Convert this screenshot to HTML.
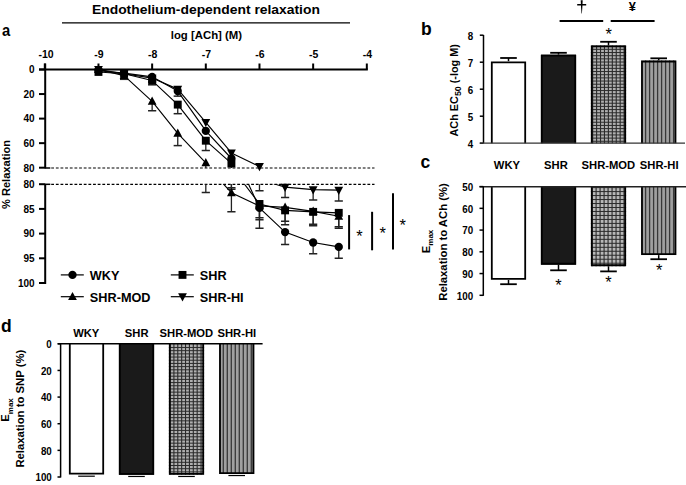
<!DOCTYPE html>
<html><head><meta charset="utf-8"><style>
html,body{margin:0;padding:0;background:#fff;}
svg{display:block;font-family:"Liberation Sans", sans-serif;}
</style></head><body>
<svg width="686" height="485" viewBox="0 0 686 485" font-family='"Liberation Sans", sans-serif'>
<rect width="686" height="485" fill="#fff"/>
<text transform="translate(2.00,35.50) scale(0.88,1)" font-size="16.8" font-weight="bold" text-anchor="start" >a</text>
<text transform="translate(421.00,34.80) scale(1.0,1)" font-size="17.5" font-weight="bold" text-anchor="start" >b</text>
<text transform="translate(420.50,168.00) scale(1.0,1)" font-size="17.5" font-weight="bold" text-anchor="start" >c</text>
<text transform="translate(1.00,332.40) scale(1.0,1)" font-size="17.5" font-weight="bold" text-anchor="start" >d</text>
<text transform="translate(205.90,14.00) scale(1.11,1)" font-size="12.5" font-weight="bold" text-anchor="middle" >Endothelium-dependent relaxation</text>
<line x1="62.00" y1="22.90" x2="350.00" y2="22.90" stroke="#000" stroke-width="1.2" />
<text transform="translate(206.40,38.70) scale(1.138,1)" font-size="10" font-weight="bold" text-anchor="middle" >log [ACh] (M)</text>
<line x1="39.00" y1="69.50" x2="367.82" y2="69.50" stroke="#000" stroke-width="2" />
<line x1="44.80" y1="63.50" x2="44.80" y2="69.50" stroke="#000" stroke-width="2" />
<text transform="translate(46.00,58.10) scale(1.03,1)" font-size="10.2" font-weight="bold" text-anchor="middle" >-10</text>
<line x1="98.47" y1="63.50" x2="98.47" y2="69.50" stroke="#000" stroke-width="2" />
<text transform="translate(98.97,58.10) scale(1.03,1)" font-size="10.2" font-weight="bold" text-anchor="middle" >-9</text>
<line x1="152.14" y1="63.50" x2="152.14" y2="69.50" stroke="#000" stroke-width="2" />
<text transform="translate(152.64,58.10) scale(1.03,1)" font-size="10.2" font-weight="bold" text-anchor="middle" >-8</text>
<line x1="205.81" y1="63.50" x2="205.81" y2="69.50" stroke="#000" stroke-width="2" />
<text transform="translate(206.31,58.10) scale(1.03,1)" font-size="10.2" font-weight="bold" text-anchor="middle" >-7</text>
<line x1="259.48" y1="63.50" x2="259.48" y2="69.50" stroke="#000" stroke-width="2" />
<text transform="translate(259.98,58.10) scale(1.03,1)" font-size="10.2" font-weight="bold" text-anchor="middle" >-6</text>
<line x1="313.15" y1="63.50" x2="313.15" y2="69.50" stroke="#000" stroke-width="2" />
<text transform="translate(313.65,58.10) scale(1.03,1)" font-size="10.2" font-weight="bold" text-anchor="middle" >-5</text>
<line x1="366.82" y1="63.50" x2="366.82" y2="69.50" stroke="#000" stroke-width="2" />
<text transform="translate(367.32,58.10) scale(1.03,1)" font-size="10.2" font-weight="bold" text-anchor="middle" >-4</text>
<line x1="45.20" y1="63.50" x2="45.20" y2="168.30" stroke="#000" stroke-width="2" />
<line x1="39.00" y1="69.50" x2="45.20" y2="69.50" stroke="#000" stroke-width="2" />
<text transform="translate(34.60,73.30) scale(1.0,1)" font-size="10.0" font-weight="bold" text-anchor="end" >0</text>
<line x1="39.00" y1="94.05" x2="45.20" y2="94.05" stroke="#000" stroke-width="2" />
<text transform="translate(34.60,97.85) scale(1.0,1)" font-size="10.0" font-weight="bold" text-anchor="end" >20</text>
<line x1="39.00" y1="118.60" x2="45.20" y2="118.60" stroke="#000" stroke-width="2" />
<text transform="translate(34.60,122.40) scale(1.0,1)" font-size="10.0" font-weight="bold" text-anchor="end" >40</text>
<line x1="39.00" y1="143.15" x2="45.20" y2="143.15" stroke="#000" stroke-width="2" />
<text transform="translate(34.60,146.95) scale(1.0,1)" font-size="10.0" font-weight="bold" text-anchor="end" >60</text>
<line x1="39.00" y1="167.70" x2="45.20" y2="167.70" stroke="#000" stroke-width="2" />
<text transform="translate(34.60,171.50) scale(1.0,1)" font-size="10.0" font-weight="bold" text-anchor="end" >80</text>
<line x1="45.20" y1="184.20" x2="45.20" y2="284.00" stroke="#000" stroke-width="2" />
<line x1="39.00" y1="184.20" x2="45.20" y2="184.20" stroke="#000" stroke-width="2" />
<text transform="translate(34.60,188.00) scale(1.0,1)" font-size="10.0" font-weight="bold" text-anchor="end" >80</text>
<line x1="39.00" y1="208.90" x2="45.20" y2="208.90" stroke="#000" stroke-width="2" />
<text transform="translate(34.60,212.70) scale(1.0,1)" font-size="10.0" font-weight="bold" text-anchor="end" >85</text>
<line x1="39.00" y1="233.60" x2="45.20" y2="233.60" stroke="#000" stroke-width="2" />
<text transform="translate(34.60,237.40) scale(1.0,1)" font-size="10.0" font-weight="bold" text-anchor="end" >90</text>
<line x1="39.00" y1="258.30" x2="45.20" y2="258.30" stroke="#000" stroke-width="2" />
<text transform="translate(34.60,262.10) scale(1.0,1)" font-size="10.0" font-weight="bold" text-anchor="end" >95</text>
<line x1="39.00" y1="283.00" x2="45.20" y2="283.00" stroke="#000" stroke-width="2" />
<text transform="translate(34.60,286.80) scale(1.0,1)" font-size="10.0" font-weight="bold" text-anchor="end" >100</text>
<line x1="45.00" y1="168.00" x2="50.30" y2="168.00" stroke="#000" stroke-width="1.5" />
<line x1="45.00" y1="184.30" x2="50.30" y2="184.30" stroke="#000" stroke-width="1.5" />
<line x1="51.20" y1="168.00" x2="374.50" y2="168.00" stroke="#000" stroke-width="1.2" stroke-dasharray="2.8 1.85"/>
<line x1="51.20" y1="184.30" x2="374.50" y2="184.30" stroke="#000" stroke-width="1.2" stroke-dasharray="2.8 1.85"/>
<text transform="translate(10.3,174.5) rotate(-90)" font-size="11.1" font-weight="bold" text-anchor="middle">% Relaxation</text>
<defs><clipPath id="cu"><rect x="40" y="60" width="340" height="107.9"/></clipPath><clipPath id="cl"><rect x="40" y="184.2" width="340" height="110"/></clipPath></defs>
<g clip-path="url(#cu)">
<line x1="152.14" y1="78.09" x2="152.14" y2="82.39" stroke="#222" stroke-width="1.3" />
<line x1="148.04" y1="82.39" x2="156.24" y2="82.39" stroke="#222" stroke-width="1.5" />
<line x1="259.48" y1="166.47" x2="259.48" y2="169.36" stroke="#222" stroke-width="1.3" />
<line x1="255.38" y1="169.36" x2="263.58" y2="169.36" stroke="#222" stroke-width="1.5" />
<line x1="285.09" y1="168.44" x2="285.09" y2="171.01" stroke="#222" stroke-width="1.3" />
<line x1="280.99" y1="171.01" x2="289.19" y2="171.01" stroke="#222" stroke-width="1.5" />
<line x1="313.15" y1="169.05" x2="313.15" y2="171.63" stroke="#222" stroke-width="1.3" />
<line x1="309.05" y1="171.63" x2="317.25" y2="171.63" stroke="#222" stroke-width="1.5" />
<line x1="338.76" y1="169.17" x2="338.76" y2="171.87" stroke="#222" stroke-width="1.3" />
<line x1="334.66" y1="171.87" x2="342.86" y2="171.87" stroke="#222" stroke-width="1.5" />
<line x1="124.08" y1="75.64" x2="124.08" y2="79.32" stroke="#222" stroke-width="1.3" />
<line x1="119.98" y1="79.32" x2="128.18" y2="79.32" stroke="#222" stroke-width="1.5" />
<line x1="152.14" y1="101.41" x2="152.14" y2="110.74" stroke="#222" stroke-width="1.3" />
<line x1="148.04" y1="110.74" x2="156.24" y2="110.74" stroke="#222" stroke-width="1.5" />
<line x1="177.75" y1="133.33" x2="177.75" y2="145.61" stroke="#222" stroke-width="1.3" />
<line x1="173.65" y1="145.61" x2="181.85" y2="145.61" stroke="#222" stroke-width="1.5" />
<line x1="205.81" y1="162.79" x2="205.81" y2="169.79" stroke="#222" stroke-width="1.3" />
<line x1="201.71" y1="169.79" x2="209.91" y2="169.79" stroke="#222" stroke-width="1.5" />
<line x1="231.42" y1="169.85" x2="231.42" y2="174.57" stroke="#222" stroke-width="1.3" />
<line x1="227.32" y1="174.57" x2="235.52" y2="174.57" stroke="#222" stroke-width="1.5" />
<line x1="259.48" y1="173.10" x2="259.48" y2="176.54" stroke="#222" stroke-width="1.3" />
<line x1="255.38" y1="176.54" x2="263.58" y2="176.54" stroke="#222" stroke-width="1.5" />
<line x1="285.09" y1="173.47" x2="285.09" y2="177.77" stroke="#222" stroke-width="1.3" />
<line x1="280.99" y1="177.77" x2="289.19" y2="177.77" stroke="#222" stroke-width="1.5" />
<line x1="313.15" y1="174.45" x2="313.15" y2="178.01" stroke="#222" stroke-width="1.3" />
<line x1="309.05" y1="178.01" x2="317.25" y2="178.01" stroke="#222" stroke-width="1.5" />
<line x1="338.76" y1="175.68" x2="338.76" y2="178.62" stroke="#222" stroke-width="1.3" />
<line x1="334.66" y1="178.62" x2="342.86" y2="178.62" stroke="#222" stroke-width="1.5" />
<line x1="152.14" y1="80.55" x2="152.14" y2="84.84" stroke="#222" stroke-width="1.3" />
<line x1="148.04" y1="84.84" x2="156.24" y2="84.84" stroke="#222" stroke-width="1.5" />
<line x1="177.75" y1="104.61" x2="177.75" y2="113.69" stroke="#222" stroke-width="1.3" />
<line x1="173.65" y1="113.69" x2="181.85" y2="113.69" stroke="#222" stroke-width="1.5" />
<line x1="205.81" y1="140.69" x2="205.81" y2="150.51" stroke="#222" stroke-width="1.3" />
<line x1="201.71" y1="150.51" x2="209.91" y2="150.51" stroke="#222" stroke-width="1.5" />
<line x1="231.42" y1="163.40" x2="231.42" y2="168.93" stroke="#222" stroke-width="1.3" />
<line x1="227.32" y1="168.93" x2="235.52" y2="168.93" stroke="#222" stroke-width="1.5" />
<line x1="259.48" y1="172.61" x2="259.48" y2="176.05" stroke="#222" stroke-width="1.3" />
<line x1="255.38" y1="176.05" x2="263.58" y2="176.05" stroke="#222" stroke-width="1.5" />
<line x1="285.09" y1="174.21" x2="285.09" y2="176.91" stroke="#222" stroke-width="1.3" />
<line x1="280.99" y1="176.91" x2="289.19" y2="176.91" stroke="#222" stroke-width="1.5" />
<line x1="313.15" y1="174.57" x2="313.15" y2="177.64" stroke="#222" stroke-width="1.3" />
<line x1="309.05" y1="177.64" x2="317.25" y2="177.64" stroke="#222" stroke-width="1.5" />
<line x1="338.76" y1="174.82" x2="338.76" y2="178.26" stroke="#222" stroke-width="1.3" />
<line x1="334.66" y1="178.26" x2="342.86" y2="178.26" stroke="#222" stroke-width="1.5" />
<line x1="152.14" y1="76.86" x2="152.14" y2="81.16" stroke="#222" stroke-width="1.3" />
<line x1="148.04" y1="81.16" x2="156.24" y2="81.16" stroke="#222" stroke-width="1.5" />
<line x1="177.75" y1="91.10" x2="177.75" y2="96.14" stroke="#222" stroke-width="1.3" />
<line x1="173.65" y1="96.14" x2="181.85" y2="96.14" stroke="#222" stroke-width="1.5" />
<line x1="231.42" y1="158.49" x2="231.42" y2="168.56" stroke="#222" stroke-width="1.3" />
<line x1="227.32" y1="168.56" x2="235.52" y2="168.56" stroke="#222" stroke-width="1.5" />
<line x1="259.48" y1="173.59" x2="259.48" y2="178.62" stroke="#222" stroke-width="1.3" />
<line x1="255.38" y1="178.62" x2="263.58" y2="178.62" stroke="#222" stroke-width="1.5" />
<line x1="285.09" y1="179.61" x2="285.09" y2="182.68" stroke="#222" stroke-width="1.3" />
<line x1="280.99" y1="182.68" x2="289.19" y2="182.68" stroke="#222" stroke-width="1.5" />
<line x1="313.15" y1="182.18" x2="313.15" y2="185.01" stroke="#222" stroke-width="1.3" />
<line x1="309.05" y1="185.01" x2="317.25" y2="185.01" stroke="#222" stroke-width="1.5" />
<line x1="338.76" y1="183.29" x2="338.76" y2="186.11" stroke="#222" stroke-width="1.3" />
<line x1="334.66" y1="186.11" x2="342.86" y2="186.11" stroke="#222" stroke-width="1.5" />
<path d="M98.47,69.50 L124.08,73.80 M124.08,73.80 L152.14,78.09 M152.14,78.09 L177.75,89.14 M177.75,89.14 L205.81,122.28 M205.81,122.28 L231.42,152.97 M231.42,152.97 L259.48,166.47 " fill="none" stroke="#000" stroke-width="1.15"/>
<path d="M98.47,69.50 L124.08,75.64 M124.08,75.64 L152.14,101.41 M152.14,101.41 L177.75,133.33 M177.75,133.33 L205.81,162.79 " fill="none" stroke="#000" stroke-width="1.15"/>
<path d="M98.47,71.95 L124.08,73.80 M124.08,73.80 L152.14,80.55 M152.14,80.55 L177.75,104.61 M177.75,104.61 L205.81,140.69 M205.81,140.69 L231.42,163.40 " fill="none" stroke="#000" stroke-width="1.15"/>
<path d="M98.47,70.73 L124.08,73.18 M124.08,73.18 L152.14,76.86 M152.14,76.86 L177.75,91.10 M177.75,91.10 L205.81,130.88 M205.81,130.88 L231.42,158.49 " fill="none" stroke="#000" stroke-width="1.15"/>
</g>
<g clip-path="url(#cl)">
<line x1="152.14" y1="-176.42" x2="152.14" y2="-159.13" stroke="#222" stroke-width="1.3" />
<line x1="148.04" y1="-159.13" x2="156.24" y2="-159.13" stroke="#222" stroke-width="1.5" />
<line x1="259.48" y1="179.26" x2="259.48" y2="190.87" stroke="#222" stroke-width="1.3" />
<line x1="255.38" y1="190.87" x2="263.58" y2="190.87" stroke="#222" stroke-width="1.5" />
<line x1="285.09" y1="187.16" x2="285.09" y2="197.54" stroke="#222" stroke-width="1.3" />
<line x1="280.99" y1="197.54" x2="289.19" y2="197.54" stroke="#222" stroke-width="1.5" />
<line x1="313.15" y1="189.63" x2="313.15" y2="200.01" stroke="#222" stroke-width="1.3" />
<line x1="309.05" y1="200.01" x2="317.25" y2="200.01" stroke="#222" stroke-width="1.5" />
<line x1="338.76" y1="190.13" x2="338.76" y2="201.00" stroke="#222" stroke-width="1.3" />
<line x1="334.66" y1="201.00" x2="342.86" y2="201.00" stroke="#222" stroke-width="1.5" />
<line x1="124.08" y1="-186.30" x2="124.08" y2="-171.48" stroke="#222" stroke-width="1.3" />
<line x1="119.98" y1="-171.48" x2="128.18" y2="-171.48" stroke="#222" stroke-width="1.5" />
<line x1="152.14" y1="-82.56" x2="152.14" y2="-45.02" stroke="#222" stroke-width="1.3" />
<line x1="148.04" y1="-45.02" x2="156.24" y2="-45.02" stroke="#222" stroke-width="1.5" />
<line x1="177.75" y1="45.88" x2="177.75" y2="95.28" stroke="#222" stroke-width="1.3" />
<line x1="173.65" y1="95.28" x2="181.85" y2="95.28" stroke="#222" stroke-width="1.5" />
<line x1="205.81" y1="164.44" x2="205.81" y2="192.60" stroke="#222" stroke-width="1.3" />
<line x1="201.71" y1="192.60" x2="209.91" y2="192.60" stroke="#222" stroke-width="1.5" />
<line x1="231.42" y1="192.84" x2="231.42" y2="211.86" stroke="#222" stroke-width="1.3" />
<line x1="227.32" y1="211.86" x2="235.52" y2="211.86" stroke="#222" stroke-width="1.5" />
<line x1="259.48" y1="205.94" x2="259.48" y2="219.77" stroke="#222" stroke-width="1.3" />
<line x1="255.38" y1="219.77" x2="263.58" y2="219.77" stroke="#222" stroke-width="1.5" />
<line x1="285.09" y1="207.42" x2="285.09" y2="224.71" stroke="#222" stroke-width="1.3" />
<line x1="280.99" y1="224.71" x2="289.19" y2="224.71" stroke="#222" stroke-width="1.5" />
<line x1="313.15" y1="211.37" x2="313.15" y2="225.70" stroke="#222" stroke-width="1.3" />
<line x1="309.05" y1="225.70" x2="317.25" y2="225.70" stroke="#222" stroke-width="1.5" />
<line x1="338.76" y1="216.31" x2="338.76" y2="228.17" stroke="#222" stroke-width="1.3" />
<line x1="334.66" y1="228.17" x2="342.86" y2="228.17" stroke="#222" stroke-width="1.5" />
<line x1="152.14" y1="-166.54" x2="152.14" y2="-149.25" stroke="#222" stroke-width="1.3" />
<line x1="148.04" y1="-149.25" x2="156.24" y2="-149.25" stroke="#222" stroke-width="1.5" />
<line x1="177.75" y1="-69.72" x2="177.75" y2="-33.16" stroke="#222" stroke-width="1.3" />
<line x1="173.65" y1="-33.16" x2="181.85" y2="-33.16" stroke="#222" stroke-width="1.5" />
<line x1="205.81" y1="75.52" x2="205.81" y2="115.04" stroke="#222" stroke-width="1.3" />
<line x1="201.71" y1="115.04" x2="209.91" y2="115.04" stroke="#222" stroke-width="1.5" />
<line x1="231.42" y1="166.91" x2="231.42" y2="189.14" stroke="#222" stroke-width="1.3" />
<line x1="227.32" y1="189.14" x2="235.52" y2="189.14" stroke="#222" stroke-width="1.5" />
<line x1="259.48" y1="203.96" x2="259.48" y2="217.79" stroke="#222" stroke-width="1.3" />
<line x1="255.38" y1="217.79" x2="263.58" y2="217.79" stroke="#222" stroke-width="1.5" />
<line x1="285.09" y1="210.38" x2="285.09" y2="221.25" stroke="#222" stroke-width="1.3" />
<line x1="280.99" y1="221.25" x2="289.19" y2="221.25" stroke="#222" stroke-width="1.5" />
<line x1="313.15" y1="211.86" x2="313.15" y2="224.21" stroke="#222" stroke-width="1.3" />
<line x1="309.05" y1="224.21" x2="317.25" y2="224.21" stroke="#222" stroke-width="1.5" />
<line x1="338.76" y1="212.85" x2="338.76" y2="226.68" stroke="#222" stroke-width="1.3" />
<line x1="334.66" y1="226.68" x2="342.86" y2="226.68" stroke="#222" stroke-width="1.5" />
<line x1="152.14" y1="-181.36" x2="152.14" y2="-164.07" stroke="#222" stroke-width="1.3" />
<line x1="148.04" y1="-164.07" x2="156.24" y2="-164.07" stroke="#222" stroke-width="1.5" />
<line x1="177.75" y1="-124.06" x2="177.75" y2="-103.80" stroke="#222" stroke-width="1.3" />
<line x1="173.65" y1="-103.80" x2="181.85" y2="-103.80" stroke="#222" stroke-width="1.5" />
<line x1="231.42" y1="147.15" x2="231.42" y2="187.66" stroke="#222" stroke-width="1.3" />
<line x1="227.32" y1="187.66" x2="235.52" y2="187.66" stroke="#222" stroke-width="1.5" />
<line x1="259.48" y1="207.91" x2="259.48" y2="228.17" stroke="#222" stroke-width="1.3" />
<line x1="255.38" y1="228.17" x2="263.58" y2="228.17" stroke="#222" stroke-width="1.5" />
<line x1="285.09" y1="232.12" x2="285.09" y2="244.47" stroke="#222" stroke-width="1.3" />
<line x1="280.99" y1="244.47" x2="289.19" y2="244.47" stroke="#222" stroke-width="1.5" />
<line x1="313.15" y1="242.49" x2="313.15" y2="253.85" stroke="#222" stroke-width="1.3" />
<line x1="309.05" y1="253.85" x2="317.25" y2="253.85" stroke="#222" stroke-width="1.5" />
<line x1="338.76" y1="246.94" x2="338.76" y2="258.30" stroke="#222" stroke-width="1.3" />
<line x1="334.66" y1="258.30" x2="342.86" y2="258.30" stroke="#222" stroke-width="1.5" />
<path d="M98.47,-211.00 L124.08,-193.71 L152.14,-176.42 L177.75,-131.96 L205.81,1.42 L231.42,124.92 L259.48,179.26 L285.09,187.16 L313.15,189.63 L338.76,190.13" fill="none" stroke="#000" stroke-width="1.15"/>
<path d="M98.47,-211.00 L124.08,-186.30 L152.14,-82.56 L177.75,45.88 L205.81,164.44 L231.42,192.84 L259.48,205.94 L285.09,207.42 L313.15,211.37 L338.76,216.31" fill="none" stroke="#000" stroke-width="1.15"/>
<path d="M98.47,-201.12 L124.08,-193.71 L152.14,-166.54 L177.75,-69.72 L205.81,75.52 L231.42,166.91 L259.48,203.96 L285.09,210.38 L313.15,211.86 L338.76,212.85" fill="none" stroke="#000" stroke-width="1.15"/>
<path d="M98.47,-206.06 L124.08,-196.18 L152.14,-181.36 L177.75,-124.06 L205.81,36.00 L231.42,147.15 L259.48,207.91 L285.09,232.12 L313.15,242.49 L338.76,246.94" fill="none" stroke="#000" stroke-width="1.15"/>
</g>
<path d="M98.47,74.30 L102.87,66.10 L94.07,66.10 Z" fill="#000"/>
<path d="M124.08,78.60 L128.48,70.40 L119.68,70.40 Z" fill="#000"/>
<path d="M152.14,82.89 L156.54,74.69 L147.74,74.69 Z" fill="#000"/>
<path d="M177.75,93.94 L182.15,85.74 L173.35,85.74 Z" fill="#000"/>
<path d="M205.81,127.08 L210.21,118.88 L201.41,118.88 Z" fill="#000"/>
<path d="M231.42,157.77 L235.82,149.57 L227.02,149.57 Z" fill="#000"/>
<path d="M259.48,171.27 L263.88,163.07 L255.08,163.07 Z" fill="#000"/>
<path d="M285.09,191.96 L289.49,183.76 L280.69,183.76 Z" fill="#000"/>
<path d="M313.15,194.43 L317.55,186.23 L308.75,186.23 Z" fill="#000"/>
<path d="M338.76,194.93 L343.16,186.73 L334.36,186.73 Z" fill="#000"/>
<path d="M98.47,64.70 L102.87,72.90 L94.07,72.90 Z" fill="#000"/>
<path d="M124.08,70.84 L128.48,79.04 L119.68,79.04 Z" fill="#000"/>
<path d="M152.14,96.61 L156.54,104.81 L147.74,104.81 Z" fill="#000"/>
<path d="M177.75,128.53 L182.15,136.73 L173.35,136.73 Z" fill="#000"/>
<path d="M205.81,157.99 L210.21,166.19 L201.41,166.19 Z" fill="#000"/>
<path d="M231.42,188.04 L235.82,196.25 L227.02,196.25 Z" fill="#000"/>
<path d="M259.48,201.14 L263.88,209.34 L255.08,209.34 Z" fill="#000"/>
<path d="M285.09,202.62 L289.49,210.82 L280.69,210.82 Z" fill="#000"/>
<path d="M313.15,206.57 L317.55,214.77 L308.75,214.77 Z" fill="#000"/>
<path d="M338.76,211.51 L343.16,219.71 L334.36,219.71 Z" fill="#000"/>
<rect x="94.52" y="68.00" width="7.9" height="7.9" fill="#000"/>
<rect x="120.13" y="69.85" width="7.9" height="7.9" fill="#000"/>
<rect x="148.19" y="76.60" width="7.9" height="7.9" fill="#000"/>
<rect x="173.80" y="100.66" width="7.9" height="7.9" fill="#000"/>
<rect x="201.86" y="136.75" width="7.9" height="7.9" fill="#000"/>
<rect x="227.47" y="159.45" width="7.9" height="7.9" fill="#000"/>
<rect x="255.53" y="200.01" width="7.9" height="7.9" fill="#000"/>
<rect x="281.14" y="206.43" width="7.9" height="7.9" fill="#000"/>
<rect x="309.20" y="207.91" width="7.9" height="7.9" fill="#000"/>
<rect x="334.81" y="208.90" width="7.9" height="7.9" fill="#000"/>
<circle cx="98.47" cy="70.73" r="4.15" fill="#000"/>
<circle cx="124.08" cy="73.18" r="4.15" fill="#000"/>
<circle cx="152.14" cy="76.86" r="4.15" fill="#000"/>
<circle cx="177.75" cy="91.10" r="4.15" fill="#000"/>
<circle cx="205.81" cy="130.88" r="4.15" fill="#000"/>
<circle cx="231.42" cy="158.49" r="4.15" fill="#000"/>
<circle cx="259.48" cy="207.91" r="4.15" fill="#000"/>
<circle cx="285.09" cy="232.12" r="4.15" fill="#000"/>
<circle cx="313.15" cy="242.49" r="4.15" fill="#000"/>
<circle cx="338.76" cy="246.94" r="4.15" fill="#000"/>
<line x1="349.10" y1="215.10" x2="349.10" y2="249.40" stroke="#000" stroke-width="2" />
<text transform="translate(359.40,241.60) scale(1.0,1)" font-size="16.5" font-weight="normal" text-anchor="middle" >*</text>
<line x1="372.10" y1="211.80" x2="372.10" y2="250.30" stroke="#000" stroke-width="2" />
<text transform="translate(382.80,238.50) scale(1.0,1)" font-size="16.5" font-weight="normal" text-anchor="middle" >*</text>
<line x1="393.00" y1="193.20" x2="393.00" y2="249.40" stroke="#000" stroke-width="2" />
<text transform="translate(402.80,230.60) scale(1.0,1)" font-size="16.5" font-weight="normal" text-anchor="middle" >*</text>
<line x1="60.80" y1="274.90" x2="83.80" y2="274.90" stroke="#000" stroke-width="1.2" />
<circle cx="72.50" cy="274.90" r="4.15" fill="#000"/>
<text transform="translate(89.80,279.80) scale(1.06,1)" font-size="12" font-weight="bold" text-anchor="start" >WKY</text>
<line x1="170.80" y1="274.90" x2="193.80" y2="274.90" stroke="#000" stroke-width="1.2" />
<rect x="178.55" y="270.95" width="7.9" height="7.9" fill="#000"/>
<text transform="translate(199.80,279.80) scale(1.06,1)" font-size="12" font-weight="bold" text-anchor="start" >SHR</text>
<line x1="60.80" y1="296.70" x2="83.80" y2="296.70" stroke="#000" stroke-width="1.2" />
<path d="M72.50,291.90 L76.90,300.10 L68.10,300.10 Z" fill="#000"/>
<text transform="translate(89.80,301.60) scale(1.06,1)" font-size="12" font-weight="bold" text-anchor="start" >SHR-MOD</text>
<line x1="170.80" y1="296.70" x2="193.80" y2="296.70" stroke="#000" stroke-width="1.2" />
<path d="M182.50,301.50 L186.90,293.30 L178.10,293.30 Z" fill="#000"/>
<text transform="translate(199.80,301.60) scale(1.06,1)" font-size="12" font-weight="bold" text-anchor="start" >SHR-HI</text>
<line x1="483.50" y1="35.00" x2="483.50" y2="143.20" stroke="#000" stroke-width="1.5" />
<line x1="479.80" y1="143.20" x2="483.50" y2="143.20" stroke="#000" stroke-width="1.5" />
<text transform="translate(473.20,147.50) scale(0.96,1)" font-size="10.2" font-weight="bold" text-anchor="end" >4</text>
<line x1="479.80" y1="116.20" x2="483.50" y2="116.20" stroke="#000" stroke-width="1.5" />
<text transform="translate(473.20,120.50) scale(0.96,1)" font-size="10.2" font-weight="bold" text-anchor="end" >5</text>
<line x1="479.80" y1="89.20" x2="483.50" y2="89.20" stroke="#000" stroke-width="1.5" />
<text transform="translate(473.20,93.50) scale(0.96,1)" font-size="10.2" font-weight="bold" text-anchor="end" >6</text>
<line x1="479.80" y1="62.20" x2="483.50" y2="62.20" stroke="#000" stroke-width="1.5" />
<text transform="translate(473.20,66.50) scale(0.96,1)" font-size="10.2" font-weight="bold" text-anchor="end" >7</text>
<line x1="479.80" y1="35.20" x2="483.50" y2="35.20" stroke="#000" stroke-width="1.5" />
<text transform="translate(473.20,39.50) scale(0.96,1)" font-size="10.2" font-weight="bold" text-anchor="end" >8</text>
<line x1="508.50" y1="57.99" x2="508.50" y2="61.39" stroke="#000" stroke-width="1.5" />
<line x1="500.20" y1="57.99" x2="516.80" y2="57.99" stroke="#000" stroke-width="1.8" />
<rect x="490.90" y="61.39" width="35.20" height="81.81" fill="#fff"/>
<path d="M491.80,143.2 L491.80,62.29 L525.20,62.29 L525.20,143.2" fill="none" stroke="#000" stroke-width="1.8"/>
<line x1="558.50" y1="52.80" x2="558.50" y2="54.64" stroke="#000" stroke-width="1.5" />
<line x1="550.20" y1="52.80" x2="566.80" y2="52.80" stroke="#000" stroke-width="1.8" />
<rect x="540.90" y="54.64" width="35.20" height="88.56" fill="#1a1a1a"/>
<path d="M541.80,143.2 L541.80,55.54 L575.20,55.54 L575.20,143.2" fill="none" stroke="#000" stroke-width="1.8"/>
<line x1="608.50" y1="41.79" x2="608.50" y2="45.46" stroke="#000" stroke-width="1.5" />
<line x1="600.20" y1="41.79" x2="616.80" y2="41.79" stroke="#000" stroke-width="1.8" />
<rect x="590.90" y="45.46" width="35.20" height="97.74" fill="#b0b0b0"/>
<path d="M592.67,45.46V143.20M596.60,45.46V143.20M600.53,45.46V143.20M604.46,45.46V143.20M608.39,45.46V143.20M612.32,45.46V143.20M616.25,45.46V143.20M620.18,45.46V143.20M624.11,45.46V143.20" stroke="#2a2a2a" stroke-width="1.1" fill="none"/>
<path d="M590.90,46.18H626.10M590.90,49.35H626.10M590.90,52.52H626.10M590.90,55.69H626.10M590.90,58.86H626.10M590.90,62.03H626.10M590.90,65.20H626.10M590.90,68.37H626.10M590.90,71.54H626.10M590.90,74.71H626.10M590.90,77.88H626.10M590.90,81.05H626.10M590.90,84.22H626.10M590.90,87.39H626.10M590.90,90.56H626.10M590.90,93.73H626.10M590.90,96.90H626.10M590.90,100.07H626.10M590.90,103.24H626.10M590.90,106.41H626.10M590.90,109.58H626.10M590.90,112.75H626.10M590.90,115.92H626.10M590.90,119.09H626.10M590.90,122.26H626.10M590.90,125.43H626.10M590.90,128.60H626.10M590.90,131.77H626.10M590.90,134.94H626.10M590.90,138.11H626.10M590.90,141.28H626.10" stroke="#2a2a2a" stroke-width="0.99" fill="none"/>
<path d="M591.80,143.2 L591.80,46.36 L625.20,46.36 L625.20,143.2" fill="none" stroke="#000" stroke-width="1.8"/>
<line x1="658.70" y1="58.31" x2="658.70" y2="60.58" stroke="#000" stroke-width="1.5" />
<line x1="650.40" y1="58.31" x2="667.00" y2="58.31" stroke="#000" stroke-width="1.8" />
<rect x="641.10" y="60.58" width="35.20" height="82.62" fill="#a0a0a0"/>
<path d="M645.60,60.58V143.20M649.60,60.58V143.20M653.60,60.58V143.20M657.60,60.58V143.20M661.60,60.58V143.20M665.60,60.58V143.20M669.60,60.58V143.20M673.60,60.58V143.20" stroke="#383838" stroke-width="1.3" fill="none"/>
<path d="M642.00,143.2 L642.00,61.48 L675.40,61.48 L675.40,143.2" fill="none" stroke="#000" stroke-width="1.8"/>
<line x1="479.80" y1="143.20" x2="685.00" y2="143.20" stroke="#333" stroke-width="1.2" />
<text transform="translate(457.5,90.3) rotate(-90)" font-size="10.85" font-weight="bold" text-anchor="middle">ACh EC<tspan font-size="8.8" dy="3.2">50</tspan><tspan dy="-3.2"> (-log M)</tspan></text>
<line x1="559.60" y1="20.90" x2="603.20" y2="20.90" stroke="#000" stroke-width="2" />
<line x1="610.70" y1="20.90" x2="654.60" y2="20.90" stroke="#000" stroke-width="2" />
<path d="M577.2,3.9 L586.2,3.9 L586.2,5.4 L577.2,5.4 Z M580.7,0.3 L582.7,0.3 L582.3,8 L581.9,13.6 L581.5,13.6 L581.1,8 Z" fill="#000"/>
<text transform="translate(632.30,10.90) scale(1.0,1)" font-size="12.8" font-weight="bold" text-anchor="middle" >¥</text>
<text transform="translate(608.80,40.40) scale(1.0,1)" font-size="16.5" font-weight="normal" text-anchor="middle" >*</text>
<text transform="translate(506.90,168.90) scale(1.08,1)" font-size="10.4" font-weight="bold" text-anchor="middle" >WKY</text>
<text transform="translate(555.90,168.90) scale(1.08,1)" font-size="10.4" font-weight="bold" text-anchor="middle" >SHR</text>
<text transform="translate(608.40,168.90) scale(1.08,1)" font-size="10.4" font-weight="bold" text-anchor="middle" >SHR-MOD</text>
<text transform="translate(659.20,168.90) scale(1.08,1)" font-size="10.4" font-weight="bold" text-anchor="middle" >SHR-HI</text>
<line x1="508.50" y1="279.86" x2="508.50" y2="284.21" stroke="#000" stroke-width="1.5" />
<line x1="500.20" y1="284.21" x2="516.80" y2="284.21" stroke="#000" stroke-width="1.8" />
<rect x="490.90" y="186.60" width="35.20" height="93.26" fill="#fff"/>
<path d="M491.80,186.60 L491.80,278.96 L525.20,278.96 L525.20,186.60" fill="none" stroke="#000" stroke-width="1.8"/>
<line x1="558.50" y1="264.65" x2="558.50" y2="270.30" stroke="#000" stroke-width="1.5" />
<line x1="550.20" y1="270.30" x2="566.80" y2="270.30" stroke="#000" stroke-width="1.8" />
<rect x="540.90" y="186.60" width="35.20" height="78.05" fill="#1a1a1a"/>
<path d="M541.80,186.60 L541.80,263.75 L575.20,263.75 L575.20,186.60" fill="none" stroke="#000" stroke-width="1.8"/>
<line x1="608.50" y1="266.17" x2="608.50" y2="271.39" stroke="#000" stroke-width="1.5" />
<line x1="600.20" y1="271.39" x2="616.80" y2="271.39" stroke="#000" stroke-width="1.8" />
<rect x="590.90" y="186.60" width="35.20" height="79.57" fill="#b8b8b8"/>
<path d="M592.11,186.60V266.17M596.10,186.60V266.17M600.09,186.60V266.17M604.08,186.60V266.17M608.07,186.60V266.17M612.06,186.60V266.17M616.05,186.60V266.17M620.04,186.60V266.17M624.03,186.60V266.17" stroke="#2a2a2a" stroke-width="1.1" fill="none"/>
<path d="M590.90,187.60H626.10M590.90,191.58H626.10M590.90,195.56H626.10M590.90,199.54H626.10M590.90,203.52H626.10M590.90,207.50H626.10M590.90,211.48H626.10M590.90,215.46H626.10M590.90,219.44H626.10M590.90,223.42H626.10M590.90,227.40H626.10M590.90,231.38H626.10M590.90,235.36H626.10M590.90,239.34H626.10M590.90,243.32H626.10M590.90,247.30H626.10M590.90,251.28H626.10M590.90,255.26H626.10M590.90,259.24H626.10M590.90,263.22H626.10" stroke="#2a2a2a" stroke-width="0.99" fill="none"/>
<path d="M591.80,186.60 L591.80,265.27 L625.20,265.27 L625.20,186.60" fill="none" stroke="#000" stroke-width="1.8"/>
<line x1="658.70" y1="255.08" x2="658.70" y2="259.21" stroke="#000" stroke-width="1.5" />
<line x1="650.40" y1="259.21" x2="667.00" y2="259.21" stroke="#000" stroke-width="1.8" />
<rect x="641.10" y="186.60" width="35.20" height="68.48" fill="#a0a0a0"/>
<path d="M645.60,186.60V255.08M649.60,186.60V255.08M653.60,186.60V255.08M657.60,186.60V255.08M661.60,186.60V255.08M665.60,186.60V255.08M669.60,186.60V255.08M673.60,186.60V255.08" stroke="#383838" stroke-width="1.3" fill="none"/>
<path d="M642.00,186.60 L642.00,254.18 L675.40,254.18 L675.40,186.60" fill="none" stroke="#000" stroke-width="1.8"/>
<line x1="479.50" y1="186.80" x2="686.00" y2="186.80" stroke="#222" stroke-width="1.4" />
<line x1="483.30" y1="186.60" x2="483.30" y2="295.80" stroke="#000" stroke-width="1.5" />
<line x1="479.50" y1="186.60" x2="483.30" y2="186.60" stroke="#000" stroke-width="1.5" />
<text transform="translate(473.20,190.90) scale(0.96,1)" font-size="10.2" font-weight="bold" text-anchor="end" >50</text>
<line x1="479.50" y1="208.34" x2="483.30" y2="208.34" stroke="#000" stroke-width="1.5" />
<text transform="translate(473.20,212.64) scale(0.96,1)" font-size="10.2" font-weight="bold" text-anchor="end" >60</text>
<line x1="479.50" y1="230.08" x2="483.30" y2="230.08" stroke="#000" stroke-width="1.5" />
<text transform="translate(473.20,234.38) scale(0.96,1)" font-size="10.2" font-weight="bold" text-anchor="end" >70</text>
<line x1="479.50" y1="251.82" x2="483.30" y2="251.82" stroke="#000" stroke-width="1.5" />
<text transform="translate(473.20,256.12) scale(0.96,1)" font-size="10.2" font-weight="bold" text-anchor="end" >80</text>
<line x1="479.50" y1="273.56" x2="483.30" y2="273.56" stroke="#000" stroke-width="1.5" />
<text transform="translate(473.20,277.86) scale(0.96,1)" font-size="10.2" font-weight="bold" text-anchor="end" >90</text>
<line x1="479.50" y1="295.30" x2="483.30" y2="295.30" stroke="#000" stroke-width="1.5" />
<text transform="translate(473.20,299.60) scale(0.96,1)" font-size="10.2" font-weight="bold" text-anchor="end" >100</text>
<text transform="translate(558.50,290.50) scale(1.0,1)" font-size="16.5" font-weight="normal" text-anchor="middle" >*</text>
<text transform="translate(608.50,288.00) scale(1.0,1)" font-size="16.5" font-weight="normal" text-anchor="middle" >*</text>
<text transform="translate(659.20,276.10) scale(1.0,1)" font-size="16.5" font-weight="normal" text-anchor="middle" >*</text>
<text transform="translate(429.5,241.5) rotate(-90)" font-size="11.3" font-weight="bold" text-anchor="middle">E<tspan font-size="8" dy="3.5">max</tspan></text>
<text transform="translate(446.5,242) rotate(-90)" font-size="11.3" font-weight="bold" text-anchor="middle">Relaxation to ACh (%)</text>
<text transform="translate(86.25,337.30) scale(1.08,1)" font-size="10.4" font-weight="bold" text-anchor="middle" >WKY</text>
<text transform="translate(136.65,337.30) scale(1.08,1)" font-size="10.4" font-weight="bold" text-anchor="middle" >SHR</text>
<text transform="translate(186.35,337.30) scale(1.08,1)" font-size="10.4" font-weight="bold" text-anchor="middle" >SHR-MOD</text>
<text transform="translate(236.85,337.30) scale(1.08,1)" font-size="10.4" font-weight="bold" text-anchor="middle" >SHR-HI</text>
<line x1="78.20" y1="476.20" x2="94.80" y2="476.20" stroke="#000" stroke-width="1.2" />
<rect x="68.90" y="343.80" width="35.20" height="130.80" fill="#fff"/>
<path d="M69.80,343.80 L69.80,473.70 L103.20,473.70 L103.20,343.80" fill="none" stroke="#000" stroke-width="1.8"/>
<line x1="128.20" y1="476.47" x2="144.80" y2="476.47" stroke="#000" stroke-width="1.2" />
<rect x="118.90" y="343.80" width="35.20" height="131.07" fill="#1a1a1a"/>
<path d="M119.80,343.80 L119.80,473.97 L153.20,473.97 L153.20,343.80" fill="none" stroke="#000" stroke-width="1.8"/>
<line x1="178.20" y1="476.47" x2="194.80" y2="476.47" stroke="#000" stroke-width="1.2" />
<rect x="168.90" y="343.80" width="35.20" height="131.07" fill="#b0b0b0"/>
<path d="M170.02,343.80V474.87M173.90,343.80V474.87M177.78,343.80V474.87M181.66,343.80V474.87M185.54,343.80V474.87M189.42,343.80V474.87M193.30,343.80V474.87M197.18,343.80V474.87M201.06,343.80V474.87" stroke="#2a2a2a" stroke-width="1.1" fill="none"/>
<path d="M168.90,347.48H204.10M168.90,350.67H204.10M168.90,353.86H204.10M168.90,357.05H204.10M168.90,360.24H204.10M168.90,363.43H204.10M168.90,366.62H204.10M168.90,369.81H204.10M168.90,373.00H204.10M168.90,376.19H204.10M168.90,379.38H204.10M168.90,382.57H204.10M168.90,385.76H204.10M168.90,388.95H204.10M168.90,392.14H204.10M168.90,395.33H204.10M168.90,398.52H204.10M168.90,401.71H204.10M168.90,404.90H204.10M168.90,408.09H204.10M168.90,411.28H204.10M168.90,414.47H204.10M168.90,417.66H204.10M168.90,420.85H204.10M168.90,424.04H204.10M168.90,427.23H204.10M168.90,430.42H204.10M168.90,433.61H204.10M168.90,436.80H204.10M168.90,439.99H204.10M168.90,443.18H204.10M168.90,446.37H204.10M168.90,449.56H204.10M168.90,452.75H204.10M168.90,455.94H204.10M168.90,459.13H204.10M168.90,462.32H204.10M168.90,465.51H204.10M168.90,468.70H204.10M168.90,471.89H204.10" stroke="#2a2a2a" stroke-width="0.99" fill="none"/>
<path d="M169.80,343.80 L169.80,473.97 L203.20,473.97 L203.20,343.80" fill="none" stroke="#000" stroke-width="1.8"/>
<line x1="228.40" y1="475.54" x2="245.00" y2="475.54" stroke="#000" stroke-width="1.2" />
<rect x="219.10" y="343.80" width="35.20" height="130.14" fill="#a0a0a0"/>
<path d="M223.30,343.80V473.94M227.30,343.80V473.94M231.30,343.80V473.94M235.30,343.80V473.94M239.30,343.80V473.94M243.30,343.80V473.94M247.30,343.80V473.94M251.30,343.80V473.94" stroke="#383838" stroke-width="1.3" fill="none"/>
<path d="M220.00,343.80 L220.00,473.04 L253.40,473.04 L253.40,343.80" fill="none" stroke="#000" stroke-width="1.8"/>
<line x1="57.80" y1="343.80" x2="262.60" y2="343.80" stroke="#000" stroke-width="1.5" />
<line x1="60.60" y1="343.80" x2="60.60" y2="477.50" stroke="#000" stroke-width="1.5" />
<line x1="57.50" y1="343.80" x2="60.60" y2="343.80" stroke="#000" stroke-width="1.5" />
<text transform="translate(51.80,348.10) scale(0.96,1)" font-size="10.2" font-weight="bold" text-anchor="end" >0</text>
<line x1="57.50" y1="370.44" x2="60.60" y2="370.44" stroke="#000" stroke-width="1.5" />
<text transform="translate(51.80,374.74) scale(0.96,1)" font-size="10.2" font-weight="bold" text-anchor="end" >20</text>
<line x1="57.50" y1="397.08" x2="60.60" y2="397.08" stroke="#000" stroke-width="1.5" />
<text transform="translate(51.80,401.38) scale(0.96,1)" font-size="10.2" font-weight="bold" text-anchor="end" >40</text>
<line x1="57.50" y1="423.72" x2="60.60" y2="423.72" stroke="#000" stroke-width="1.5" />
<text transform="translate(51.80,428.02) scale(0.96,1)" font-size="10.2" font-weight="bold" text-anchor="end" >60</text>
<line x1="57.50" y1="450.36" x2="60.60" y2="450.36" stroke="#000" stroke-width="1.5" />
<text transform="translate(51.80,454.66) scale(0.96,1)" font-size="10.2" font-weight="bold" text-anchor="end" >80</text>
<line x1="57.50" y1="477.00" x2="60.60" y2="477.00" stroke="#000" stroke-width="1.5" />
<text transform="translate(51.80,481.30) scale(0.96,1)" font-size="10.2" font-weight="bold" text-anchor="end" >100</text>
<text transform="translate(9.3,410) rotate(-90)" font-size="11.3" font-weight="bold" text-anchor="middle">E<tspan font-size="8" dy="3.5">max</tspan></text>
<text transform="translate(24.3,408.7) rotate(-90)" font-size="11.3" font-weight="bold" text-anchor="middle">Relaxation to SNP (%)</text>
</svg></body></html>
